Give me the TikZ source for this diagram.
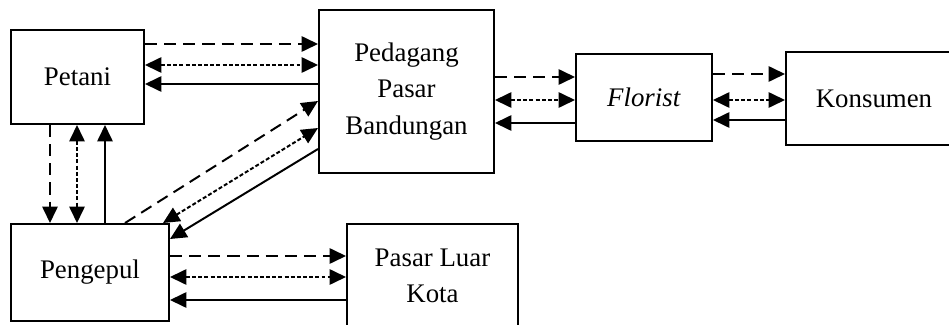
\documentclass[tikz,border=0pt]{standalone}
\usepackage{fontspec}
\setmainfont{Liberation Serif}
\usepackage{tikz}
\usetikzlibrary{arrows.meta}

\begin{document}
\begin{tikzpicture}[
            x=0.4545pt, y=-0.4545pt,
            box/.style={rectangle, draw=black, line width=0.9pt, align=center,
                        font=\fontsize{12.2}{16.4}\selectfont, inner sep=0pt},
            tip/.style={-{Triangle[length=7.5pt,width=7pt]}},
            barang/.style={tip, line width=0.9pt, dash pattern=on 5.5pt off 3.2pt},
            info/.style={{Triangle[length=7.5pt,width=7pt]}-{Triangle[length=7.5pt,width=7pt]},
                         line width=0.9pt, dash pattern=on 1.8pt off 1pt},
            uang/.style={tip, line width=0.9pt}
        ]

        \clip (0,0) rectangle (949,325);

        \node[box, minimum width=133*0.4545pt, minimum height=94*0.4545pt] (petani) at (77.5,77) {Petani};
        \node[box, minimum width=175*0.4545pt, minimum height=163*0.4545pt] (pedagang) at (406.5,91.5) {Pedagang\\Pasar\\Bandungan};
        \node[box, minimum width=136*0.4545pt, minimum height=87*0.4545pt] (florist) at (644,97.5) {\textit{Florist}};
        \node[box, minimum width=176*0.4545pt, minimum height=93*0.4545pt] (konsumen) at (874,98.5) {Konsumen};
        \node[box, minimum width=158*0.4545pt, minimum height=97*0.4545pt] (pengepul) at (90,272.5) {Pengepul};
        \node[box, minimum width=171*0.4545pt, minimum height=104*0.4545pt] (luarkota) at (432.5,276) {Pasar Luar\\Kota};

        % petani - pedagang
        \draw[barang] (petani.east |- 0,44) -- (pedagang.west |- 0,44);
        \draw[info] (petani.east |- 0,65) -- (pedagang.west |- 0,65);
        \draw[uang] (pedagang.west |- 0,84) -- (petani.east |- 0,84);

        % petani - pengepul
        \draw[barang] (petani.south -| 50,0) -- (pengepul.north -| 50,0);
        \draw[info] (petani.south -| 77,0) -- (pengepul.north -| 77,0);
        \draw[uang] (pengepul.north -| 105,0) -- (petani.south -| 105,0);

        % pengepul - pedagang
        \draw[barang] (pengepul.north -| 125,0) -- (pedagang.west |- 0,101);
        \draw[info] (pengepul.north -| 163,0) -- (pedagang.west |- 0,128);
        \draw[uang] (pedagang.west |- 0,149) -- (pengepul.east |- 0,239);

        % pedagang - florist
        \draw[barang] (pedagang.east |- 0,77) -- (florist.west |- 0,77);
        \draw[info] (pedagang.east |- 0,100) -- (florist.west |- 0,100);
        \draw[uang] (florist.west |- 0,123) -- (pedagang.east |- 0,123);

        % florist - konsumen
        \draw[barang] (florist.east |- 0,74) -- (konsumen.west |- 0,74);
        \draw[info] (florist.east |- 0,100) -- (konsumen.west |- 0,100);
        \draw[uang] (konsumen.west |- 0,120) -- (florist.east |- 0,120);

        % pengepul - pasar luar kota
        \draw[barang] (pengepul.east |- 0,256) -- (luarkota.west |- 0,256);
        \draw[info] (pengepul.east |- 0,277) -- (luarkota.west |- 0,277);
        \draw[uang] (luarkota.west |- 0,300) -- (pengepul.east |- 0,300);

    \end{tikzpicture}
\end{document}
